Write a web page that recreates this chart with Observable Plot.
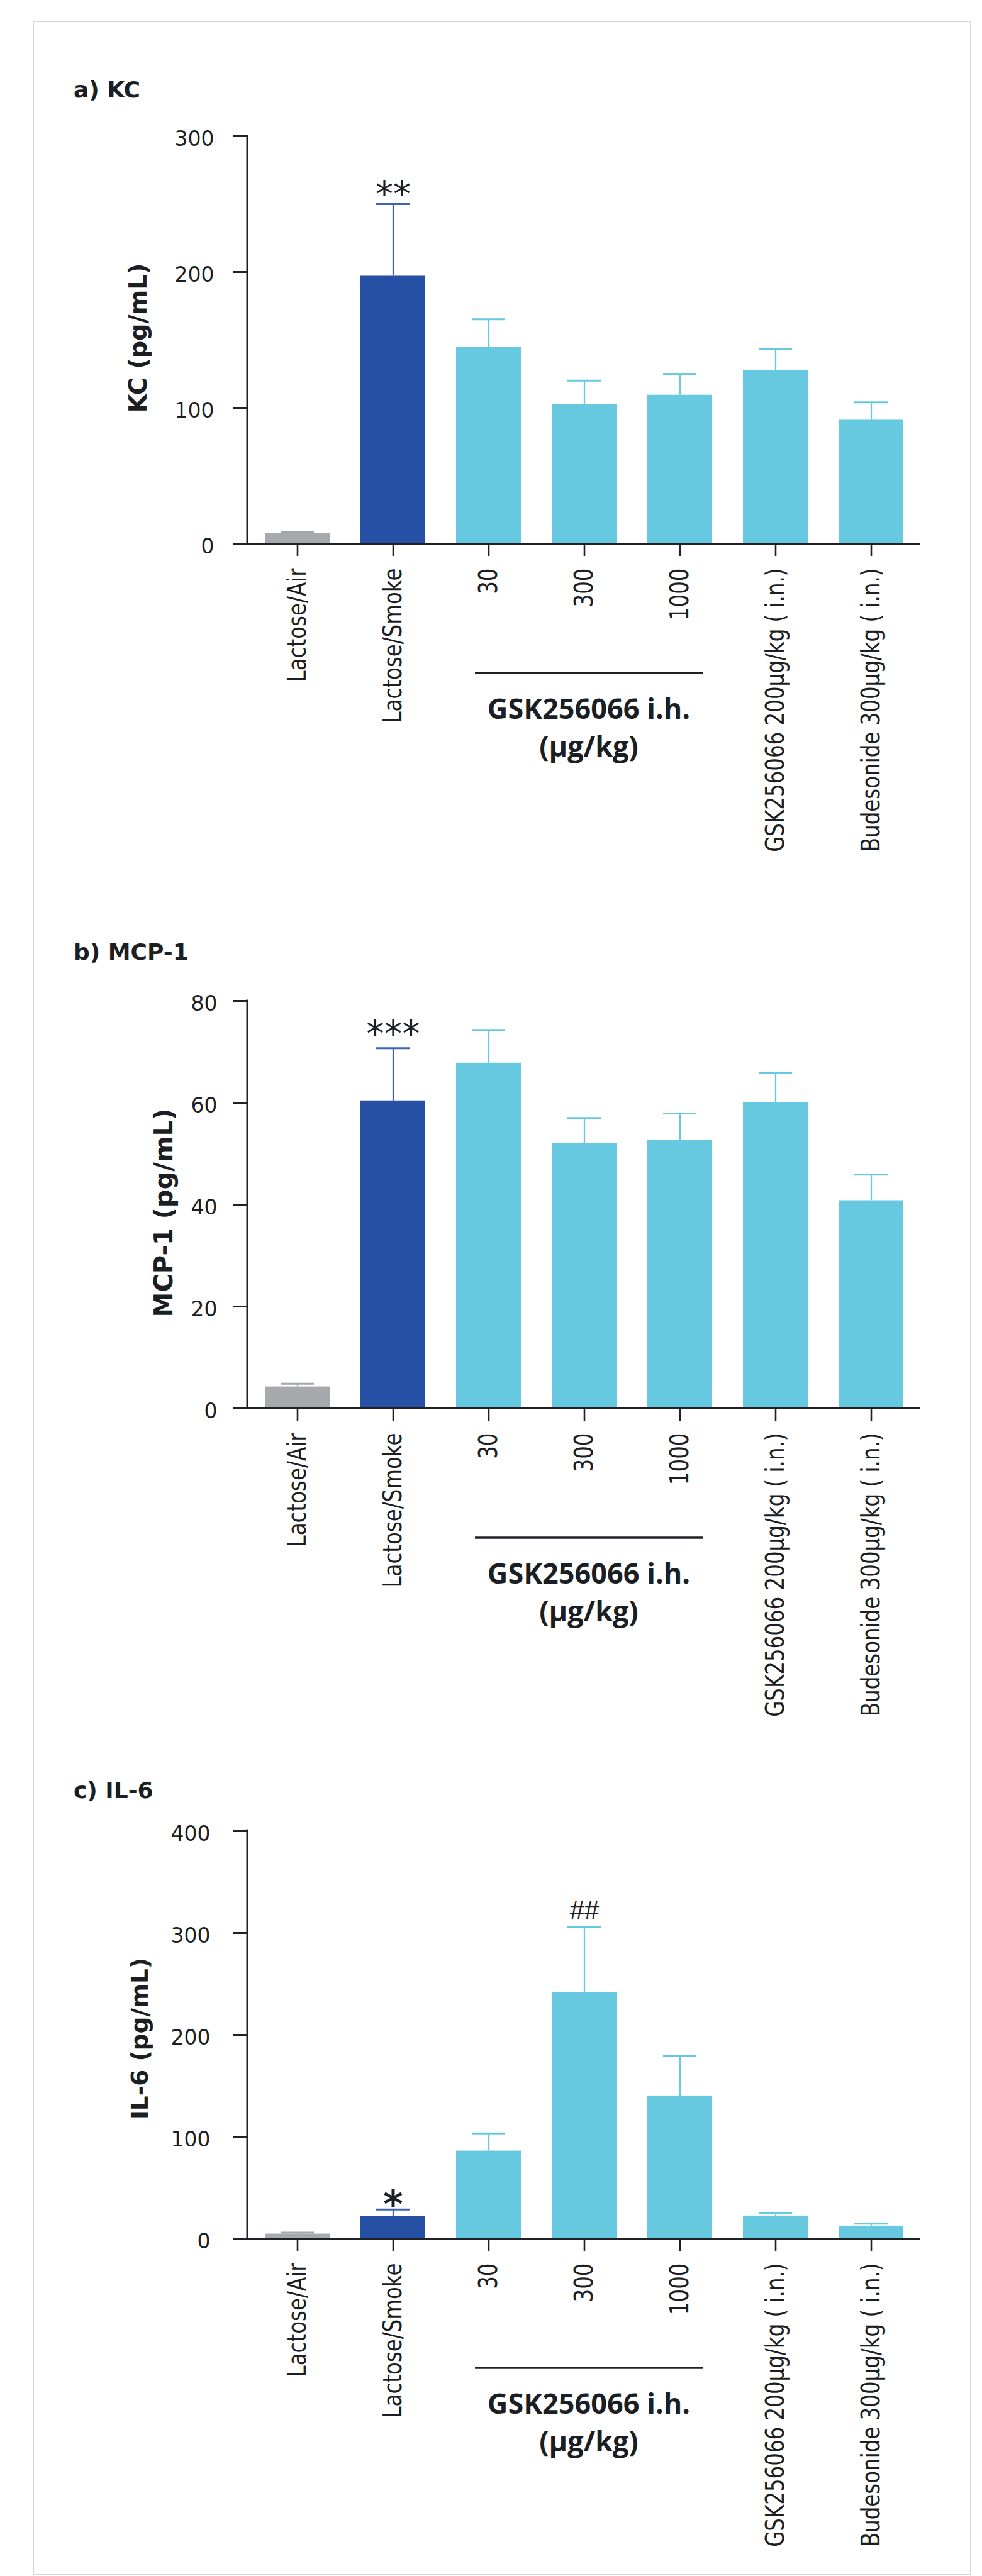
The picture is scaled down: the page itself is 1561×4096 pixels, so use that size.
<!DOCTYPE html>
<html><head><meta charset="utf-8">
<script src="https://cdn.jsdelivr.net/npm/d3@7"></script>
<script src="https://cdn.jsdelivr.net/npm/@observablehq/plot@0.6"></script>
<style>
body{margin:0;background:#fff;}
#page{position:relative;width:1561px;height:4096px;overflow:hidden;background:#fff;}
.border{position:absolute;left:52px;top:33px;width:1492px;height:4062px;border:2px solid #d6d6d6;box-sizing:border-box;}
.title{position:absolute;left:117px;font-family:"DejaVu Sans";font-weight:bold;font-size:36px;line-height:36px;color:#1b1f24;white-space:nowrap;}
.panel{position:absolute;left:0;width:1561px;}
.panel svg{display:block;}
</style></head><body><div id="page"><div class="border"></div></div>
<script>
// ---- data ----
const groups = ["Lactose/Air", "Lactose/Smoke", "30", "300", "1000", "GSK256066 200µg/kg ( i.n.)", "Budesonide 300µg/kg ( i.n.)"];
const barColors = ["#a8a9ac", "#2550a3", "#66c9df", "#66c9df", "#66c9df", "#66c9df", "#66c9df"];
const errColors = ["#a3a5a8", "#3d63b2", "#66c9df", "#66c9df", "#66c9df", "#66c9df", "#66c9df"];
const groupLabel = ["GSK256066 i.h.", "(µg/kg)"];
const groupSpan = ["30", "1000"];

const kcMean  = [7.5, 197, 144.6, 102.4, 109.4, 127.5, 91.0];
const kcUpper = [8.5, 250, 165.2, 120.0, 125.0, 143.2, 104.1];
const kcTicks = [0, 100, 200, 300];
const kcSig   = ["", "**", "", "", "", "", ""];

const mcpMean  = [4.25, 60.4, 67.8, 52.1, 52.6, 60.1, 40.8];
const mcpUpper = [4.85, 70.7, 74.3, 57.0, 57.9, 65.9, 45.9];
const mcpTicks = [0, 20, 40, 60, 80];
const mcpSig   = ["", "***", "", "", "", "", ""];

const il6Mean  = [4.6, 21.6, 86.1, 241.6, 140.2, 22.3, 12.4];
const il6Upper = [5.8, 28.6, 103.3, 306.1, 179.3, 24.9, 14.7];
const il6Ticks = [0, 100, 200, 300, 400];
const il6Sig   = ["", "*", "", "##", "", "", ""];

const panels = [
  {title: "a) KC", ylabel: "KC (pg/mL)", mean: kcMean, upper: kcUpper, ticks: kcTicks, sig: kcSig,
   titleTop: 125, svgTop: 115.6, tickPad: 30, ylabelDx: -161, ylabelDy: -3, ylabelSize: 38.3},
  {title: "b) MCP-1", ylabel: "MCP-1 (pg/mL)", mean: mcpMean, upper: mcpUpper, ticks: mcpTicks, sig: mcpSig,
   titleTop: 1496, svgTop: 1491, tickPad: 25, ylabelDx: -120, ylabelDy: 13, ylabelSize: 40},
  {title: "c) IL-6", ylabel: "IL-6 (pg/mL)", mean: il6Mean, upper: il6Upper, ticks: il6Ticks, sig: il6Sig,
   titleTop: 2828.5, svgTop: 2811, tickPad: 36, ylabelDx: -159, ylabelDy: 6, ylabelSize: 37.5}
];

const sigStyles = {
  "**":  {fontFamily: "DejaVu Sans", fontWeight: "normal", fontSize: 56, dy: 3},
  "***": {fontFamily: "DejaVu Sans", fontWeight: "normal", fontSize: 57, dy: -4},
  "*":   {fontFamily: "DejaVu Sans", fontWeight: "bold", fontSize: 60, dy: 13},
  "##":  {fontFamily: "Liberation Sans", fontWeight: "normal", fontSize: 42, dy: -12}
};

const ink = "#1b1f24";
const axisInk = "#1e2226";
const page = document.getElementById("page");
const SVGNS = "http://www.w3.org/2000/svg";

function stretch(svg, label, k) {
  svg.querySelectorAll(`g[aria-label="${label}"]`).forEach(g => {
    const texts = g.querySelectorAll("text");
    let done = false;
    texts.forEach(t => {
      const tr = t.getAttribute("transform");
      if (tr) { t.setAttribute("transform", tr + ` scale(1,${k})`); done = true; }
    });
    if (!done) {
      const tr = g.getAttribute("transform") || "";
      g.setAttribute("transform", tr + ` scale(1,${k})`);
    }
  });
}

function line(x1, y1, x2, y2, w) {
  const l = document.createElementNS(SVGNS, "line");
  l.setAttribute("x1", x1); l.setAttribute("y1", y1);
  l.setAttribute("x2", x2); l.setAttribute("y2", y2);
  l.setAttribute("stroke", axisInk); l.setAttribute("stroke-width", w);
  return l;
}

// y-axis line (from the frame's dimensions)
function yAxisLine(index, scales, values, dimensions) {
  const {marginLeft, marginTop, height, marginBottom} = dimensions;
  const g = document.createElementNS(SVGNS, "g");
  g.setAttribute("aria-label", "y-axis line");
  g.appendChild(line(marginLeft, marginTop - 1.5, marginLeft, height - marginBottom + 1.5, 3));
  return g;
}

// bracket line under the GSK256066 i.h. doses, placed by the x band scale
function groupLine(index, scales) {
  const x = scales.x, bw = x.bandwidth ? x.bandwidth() : 0;
  const y0 = scales.y(0);
  const g = document.createElementNS(SVGNS, "g");
  g.setAttribute("aria-label", "group line");
  g.appendChild(line(x(groupSpan[0]) + 30, y0 + 206, x(groupSpan[1]) + bw - 15, y0 + 206, 3.5));
  return g;
}

panels.forEach(cfg => {
  const data = groups.map((g, i) => ({group: g, mean: cfg.mean[i], upper: cfg.upper[i], fill: barColors[i], err: errColors[i], sig: cfg.sig[i]}));
  const sigMarks = Object.keys(sigStyles).map(s => {
    const rows = data.filter(d => d.sig === s);
    if (!rows.length) return null;
    const st = sigStyles[s];
    return Plot.text(rows, {x: "group", y: "upper", text: "sig", lineAnchor: "bottom", textAnchor: "middle",
      fontSize: st.fontSize, fontFamily: st.fontFamily, fontWeight: st.fontWeight, dy: st.dy, fill: ink});
  }).filter(Boolean);

  const svg = Plot.plot({
    width: 1561, height: 1268,
    marginTop: 100, marginBottom: 520, marginLeft: 393, marginRight: 98,
    style: {background: "transparent", overflow: "visible", color: ink, fontFamily: "DejaVu Sans", fontSize: "33px"},
    x: {domain: groups, paddingInner: 0.323, paddingOuter: 0.1615, axis: null},
    y: {domain: [0, cfg.ticks[cfg.ticks.length - 1]], axis: null},
    marks: [
      Plot.barY(data, {x: "group", y: "mean", fill: "fill"}),
      Plot.ruleX(data, {x: "group", y1: "mean", y2: "upper", stroke: "err", strokeWidth: 2.3}),
      Plot.tickY(data, {x: "group", y: "upper", stroke: "err", strokeWidth: 3, insetLeft: 25, insetRight: 25}),
      Plot.ruleY([0], {stroke: axisInk, strokeWidth: 3}),
      yAxisLine,
      // y ticks (lines only) and y tick labels
      Plot.axisY(cfg.ticks, {tickSize: 23, tickFormat: () => "", stroke: axisInk, strokeWidth: 3, label: null}),
      Plot.axisY(cfg.ticks, {tickSize: 0, tickPadding: 23 + cfg.tickPad, dy: 5, fontSize: 33, fontFamily: "DejaVu Sans", fill: ink, label: null}),
      Plot.axisX({tickSize: 20, tickPadding: 19, tickRotate: -90, fontSize: 32.5, fontFamily: "DejaVu Sans", stroke: axisInk, strokeWidth: 2.6, fill: ink, label: null}),
      Plot.text([cfg.ylabel], {frameAnchor: "left", rotate: -90, dx: cfg.ylabelDx, dy: cfg.ylabelDy, textAnchor: "middle", lineAnchor: "bottom",
        fontSize: cfg.ylabelSize, fontWeight: "bold", fontFamily: "DejaVu Sans", fill: ink, ariaLabel: "ylabel"}),
      groupLine,
      Plot.text([groupLabel[0]], {x: () => groups[3], y: () => 0, dx: 7, dy: 278, lineAnchor: "bottom", textAnchor: "middle",
        fontSize: 45, fontWeight: "bold", fontFamily: "Open Sans", fill: ink}),
      Plot.text([groupLabel[1]], {x: () => groups[3], y: () => 0, dx: 7, dy: 338, lineAnchor: "bottom", textAnchor: "middle",
        fontSize: 45, fontWeight: "bold", fontFamily: "Open Sans", fill: ink}),
      ...sigMarks
    ]
  });
  stretch(svg, "x-axis tick label", 1.25);
  stretch(svg, "ylabel", 1.25);

  const t = document.createElement("div");
  t.className = "title";
  t.style.top = cfg.titleTop + "px";
  t.textContent = cfg.title;
  page.appendChild(t);

  const holder = document.createElement("div");
  holder.className = "panel";
  holder.style.top = cfg.svgTop + "px";
  holder.appendChild(svg);
  page.appendChild(holder);
});
</script>
</body></html>
